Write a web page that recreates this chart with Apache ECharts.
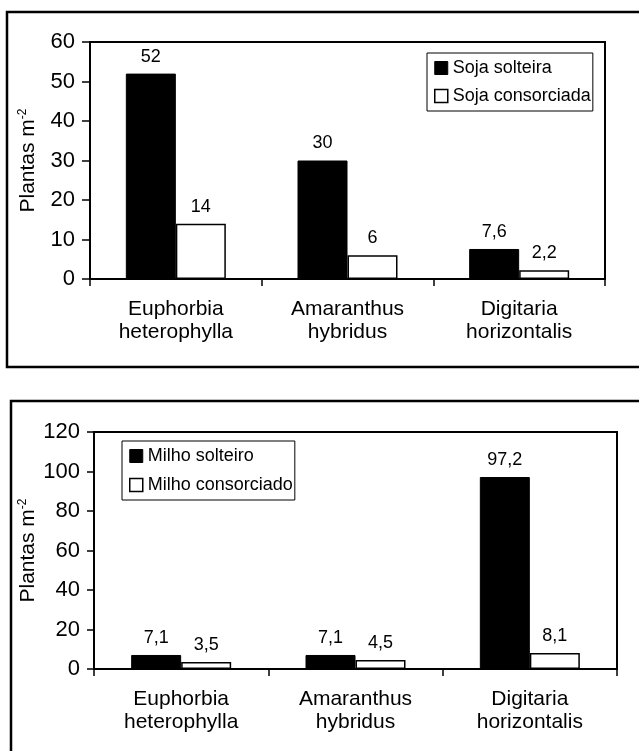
<!DOCTYPE html>
<html>
<head>
<meta charset="utf-8">
<script src="https://cdn.jsdelivr.net/npm/echarts@6/dist/echarts.min.js"></script>
<style>
  html, body { margin: 0; padding: 0; background: #fff; }
  #chart { width: 639px; height: 751px; }
</style>
</head>
<body>
<div id="chart"></div>
<script>
// Weed species (shared by both panels)
const categories = ['Euphorbia\nheterophylla', 'Amaranthus\nhybridus', 'Digitaria\nhorizontalis'];

// Soybean panel (plants per m²)
const sojaSolteira = [52, 30, 7.6];
const sojaConsorciada = [14, 6, 2.2];

// Maize panel (plants per m²)
const milhoSolteiro = [7.1, 7.1, 97.2];
const milhoConsorciado = [3.5, 4.5, 8.1];

// Y-axis ranges
const sojaAxis = { min: 0, max: 60, interval: 10 };
const milhoAxis = { min: 0, max: 120, interval: 20 };

const FONT = 'Liberation Sans, Arial, sans-serif';
const fmt = v => String(v).replace('.', ',');

function yAxisFor(range, gridIndex, nameGap, labelMargin, tickLen) {
  return {
    type: 'value', gridIndex,
    min: range.min, max: range.max, interval: range.interval,
    name: '{b|Plantas m}{s|-2}',
    nameLocation: 'middle', nameRotate: 90, nameGap,
    nameMoveOverlap: false,
    nameTextStyle: {
      rich: {
        b: { fontFamily: FONT, fontSize: 21, color: '#000' },
        s: { fontFamily: FONT, fontSize: 12, color: '#000', verticalAlign: 'top', padding: [0, 0, 11, 0] }
      }
    },
    axisLine: { show: true, lineStyle: { color: '#000', width: 2 } },
    axisTick: { show: true, inside: false, length: tickLen, lineStyle: { color: '#000', width: 1.5 } },
    axisLabel: { color: '#000', fontFamily: FONT, fontSize: 22, margin: labelMargin },
    splitLine: { show: false }
  };
}

function xAxisFor(gridIndex) {
  return {
    type: 'category', gridIndex, data: categories,
    axisLine: { show: true, lineStyle: { color: '#000', width: 2 } },
    axisTick: { show: true, inside: false, length: 7, alignWithLabel: false, lineStyle: { color: '#000', width: 1.5 } },
    axisLabel: { color: '#000', fontFamily: FONT, fontSize: 21, lineHeight: 23, margin: 19, interval: 0 }
  };
}

function barSeries(name, data, axisIndex, filled) {
  return {
    type: 'bar', name, data,
    xAxisIndex: axisIndex, yAxisIndex: axisIndex,
    barWidth: 50, barGap: '0%',
    itemStyle: filled
      ? { color: '#000', borderColor: '#000', borderWidth: 1 }
      : { color: '#fff', borderColor: '#000', borderWidth: 1.5 },
    label: {
      show: true, position: 'top', distance: 8,
      color: '#000', fontFamily: FONT, fontSize: 18,
      formatter: p => fmt(p.value)
    },
    emphasis: { disabled: true }
  };
}

function legendFor(names, left, top, gap) {
  return {
    orient: 'vertical', left, top,
    padding: [6, 2, 6, 7], itemGap: gap,
    itemWidth: 13, itemHeight: 13,
    borderColor: '#000', borderWidth: 1,
    backgroundColor: '#fff',
    selectedMode: false,
    textStyle: { color: '#000', fontFamily: FONT, fontSize: 18 },
    data: [
      { name: names[0], icon: 'rect', itemStyle: { color: '#000', borderColor: '#000', borderWidth: 1 } },
      { name: names[1], icon: 'rect', itemStyle: { color: '#fff', borderColor: '#000', borderWidth: 1.5 } }
    ]
  };
}

const chart = echarts.init(document.getElementById('chart'), null, { renderer: 'canvas' });
chart.setOption({
  animation: false,
  backgroundColor: '#fff',
  graphic: [
    { type: 'rect', shape: { x: 7, y: 12, width: 660, height: 355 }, style: { fill: 'none', stroke: '#000', lineWidth: 2.5 }, z: 0 },
    { type: 'rect', shape: { x: 11, y: 401, width: 660, height: 380 }, style: { fill: 'none', stroke: '#000', lineWidth: 2.5 }, z: 0 }
  ],
  grid: [
    { left: 90, top: 42, right: 34, height: 237, show: true, borderColor: '#000', borderWidth: 2, backgroundColor: 'transparent' },
    { left: 94, top: 432, right: 22, height: 237, show: true, borderColor: '#000', borderWidth: 2, backgroundColor: 'transparent' }
  ],
  legend: [
    legendFor(['Soja solteira', 'Soja consorciada'], 427, 53, 10),
    legendFor(['Milho solteiro', 'Milho consorciado'], 122, 441, 11)
  ],
  xAxis: [xAxisFor(0), xAxisFor(1)],
  yAxis: [
    yAxisFor(sojaAxis, 0, 50, 15, 8),
    yAxisFor(milhoAxis, 1, 54, 14, 7)
  ],
  series: [
    barSeries('Soja solteira', sojaSolteira, 0, true),
    barSeries('Soja consorciada', sojaConsorciada, 0, false),
    barSeries('Milho solteiro', milhoSolteiro, 1, true),
    barSeries('Milho consorciado', milhoConsorciado, 1, false)
  ]
});
</script>
</body>
</html>
